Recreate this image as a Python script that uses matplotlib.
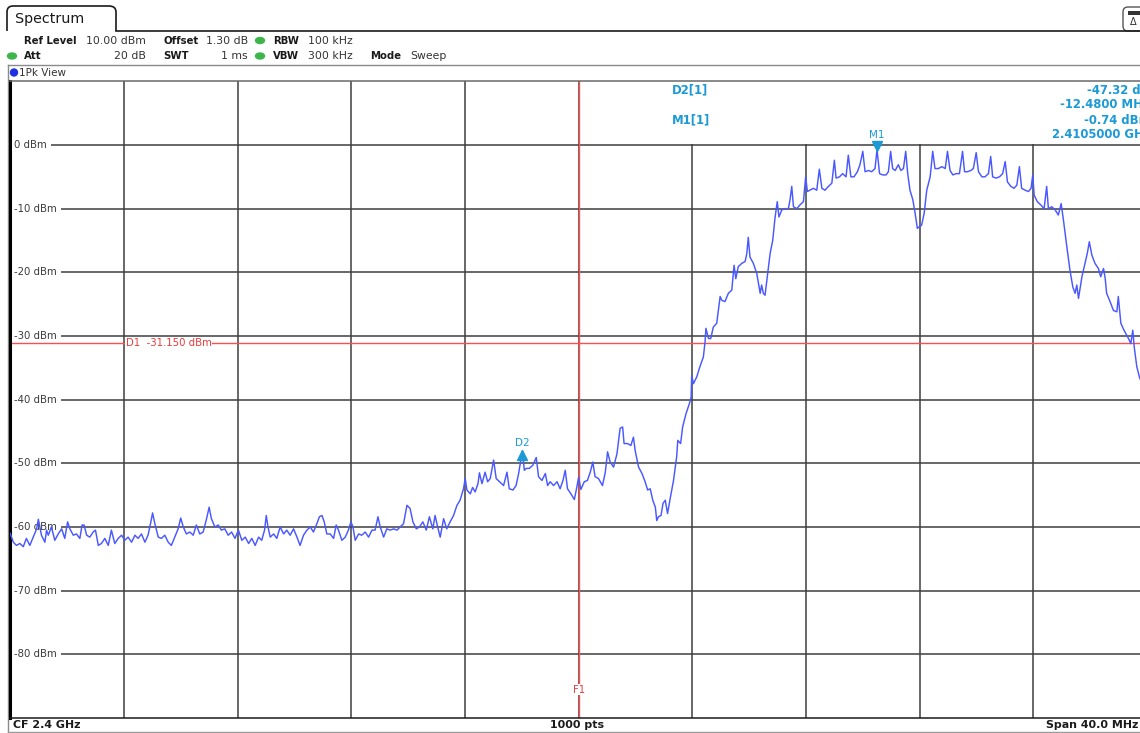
import matplotlib
matplotlib.use("Agg")
import matplotlib.pyplot as plt
import matplotlib.transforms as mtransforms
from matplotlib.patches import FancyBboxPatch, Ellipse, Rectangle
from matplotlib.path import Path
from matplotlib.patches import PathPatch

# ---------------- sweep settings ----------------
start_mhz = 2380.0
stop_mhz = 2420.0
center_ghz = 2.4
span_mhz = 40.0
n_points = 1000
ref_level = 10.0
y_bottom = -90.0

# ---------------- trace (offset from start in MHz, level in dBm) ----------------
freq_offset_mhz = [
    0.00, 0.11, 0.22, 0.34, 0.46, 0.57, 0.69, 0.81, 0.93, 0.99,
    1.10, 1.22, 1.28, 1.34, 1.45, 1.57, 1.69, 1.81, 1.92, 2.02,
    2.10, 2.22, 2.33, 2.45, 2.53, 2.60, 2.69, 2.80, 2.92, 3.00,
    3.10, 3.21, 3.33, 3.45, 3.56, 3.68, 3.80, 3.92, 4.03, 4.15,
    4.27, 4.39, 4.50, 4.62, 4.74, 4.85, 4.95, 5.01, 5.09, 5.21,
    5.32, 5.44, 5.56, 5.67, 5.79, 5.91, 6.00, 6.09, 6.20, 6.32,
    6.44, 6.55, 6.67, 6.79, 6.91, 7.00, 7.08, 7.20, 7.32, 7.43,
    7.55, 7.67, 7.79, 7.91, 8.03, 8.15, 8.27, 8.39, 8.50, 8.62,
    8.74, 8.85, 8.95, 9.01, 9.07, 9.15, 9.27, 9.38, 9.50, 9.62,
    9.73, 9.85, 9.97, 10.09, 10.20, 10.32, 10.44, 10.56, 10.67, 10.79,
    10.88, 10.97, 11.05, 11.14, 11.26, 11.38, 11.47, 11.55, 11.67, 11.79,
    11.90, 11.99, 12.06, 12.14, 12.26, 12.37, 12.49, 12.61, 12.73, 12.84,
    12.94, 13.02, 13.14, 13.25, 13.37, 13.49, 13.61, 13.72, 13.84, 13.96,
    14.07, 14.17, 14.29, 14.40, 14.52, 14.64, 14.75, 14.87, 14.95, 15.04,
    15.13, 15.25, 15.36, 15.48, 15.60, 15.72, 15.83, 15.95, 16.01, 16.07,
    16.19, 16.27, 16.36, 16.46, 16.51, 16.60, 16.71, 16.80, 16.89, 17.01,
    17.10, 17.22, 17.36, 17.48, 17.56, 17.69, 17.80, 17.89, 18.02, 18.09,
    18.16, 18.27, 18.39, 18.51, 18.59, 18.71, 18.83, 18.91, 19.00, 19.12,
    19.24, 19.35, 19.45, 19.53, 19.61, 19.73, 19.85, 19.94, 20.00, 20.08,
    20.20, 20.31, 20.41, 20.50, 20.58, 20.70, 20.84, 20.94, 21.02, 21.11,
    21.23, 21.35, 21.46, 21.55, 21.60, 21.72, 21.84, 21.93, 21.99, 22.11,
    22.23, 22.34, 22.43, 22.52, 22.61, 22.70, 22.75, 22.81, 22.90, 22.97,
    23.05, 23.13, 23.22, 23.34, 23.45, 23.49, 23.59, 23.66, 23.78, 23.90,
    23.96, 23.98, 24.04, 24.16, 24.27, 24.39, 24.45, 24.48, 24.57, 24.65,
    24.74, 24.86, 24.98, 25.04, 25.15, 25.27, 25.39, 25.47, 25.53, 25.62,
    25.74, 25.86, 25.92, 25.97, 26.03, 26.15, 26.27, 26.39, 26.44, 26.50,
    26.56, 26.64, 26.74, 26.83, 26.91, 26.99, 27.05, 27.15, 27.26, 27.38,
    27.44, 27.50, 27.56, 27.68, 27.79, 27.91, 27.99, 28.05, 28.14, 28.26,
    28.38, 28.47, 28.56, 28.67, 28.79, 28.91, 29.00, 29.06, 29.18, 29.29,
    29.41, 29.49, 29.58, 29.69, 29.81, 29.90, 30.00, 30.08, 30.20, 30.31,
    30.43, 30.50, 30.59, 30.70, 30.82, 30.90, 30.98, 31.05, 31.14, 31.25,
    31.34, 31.43, 31.51, 31.58, 31.66, 31.76, 31.84, 31.92, 32.00, 32.07,
    32.16, 32.25, 32.37, 32.46, 32.54, 32.66, 32.78, 32.90, 32.98, 33.07,
    33.17, 33.28, 33.40, 33.51, 33.58, 33.68, 33.80, 33.89, 33.99, 34.07,
    34.19, 34.30, 34.42, 34.50, 34.57, 34.69, 34.81, 34.92, 35.01, 35.09,
    35.21, 35.32, 35.42, 35.51, 35.59, 35.71, 35.83, 35.92, 35.98, 36.03,
    36.14, 36.26, 36.38, 36.47, 36.53, 36.65, 36.77, 36.88, 36.98, 37.06,
    37.18, 37.29, 37.39, 37.47, 37.53, 37.59, 37.71, 37.82, 37.90, 37.97,
    38.06, 38.17, 38.29, 38.37, 38.47, 38.53, 38.58, 38.70, 38.82, 38.94,
    38.99, 39.08, 39.19, 39.35, 39.43, 39.50, 39.55, 39.64, 39.73, 39.90,
]
level_dbm = [
    -61.0, -62.4, -62.9, -62.6, -63.1, -61.8, -62.9, -61.6, -60.3, -58.8,
    -61.3, -62.4, -60.5, -61.3, -60.0, -62.1, -61.1, -60.3, -61.8, -59.2,
    -60.3, -61.3, -61.1, -61.8, -59.7, -59.7, -61.3, -61.6, -60.8, -60.5,
    -62.9, -62.6, -61.8, -62.9, -60.5, -62.6, -61.8, -61.3, -62.1, -61.6,
    -62.4, -61.3, -61.8, -61.1, -62.4, -61.3, -59.2, -57.8, -59.5, -61.6,
    -61.8, -61.3, -62.4, -62.9, -61.6, -60.3, -58.6, -60.0, -61.1, -60.8,
    -61.3, -59.7, -61.1, -60.8, -58.7, -56.9, -58.7, -60.0, -59.7, -60.5,
    -60.3, -61.3, -60.8, -61.8, -60.5, -62.1, -61.6, -62.6, -61.8, -62.9,
    -61.6, -62.1, -60.5, -58.2, -60.0, -61.6, -61.1, -61.8, -60.0, -61.1,
    -60.5, -61.3, -60.3, -61.6, -62.9, -61.3, -60.5, -60.0, -60.8, -59.5,
    -58.4, -58.2, -59.2, -61.1, -61.1, -61.8, -59.7, -60.5, -62.1, -61.6,
    -60.5, -59.2, -60.0, -62.1, -61.1, -61.3, -60.8, -61.6, -60.5, -60.5,
    -58.4, -60.0, -61.6, -60.3, -60.5, -60.3, -60.5, -60.0, -59.5, -56.6,
    -57.1, -59.2, -60.3, -60.0, -59.2, -60.5, -58.4, -60.3, -58.2, -60.0,
    -61.6, -58.7, -60.3, -59.2, -58.2, -56.6, -55.8, -54.0, -52.4, -54.2,
    -54.8, -53.8, -54.5, -53.2, -51.5, -53.2, -51.4, -52.9, -52.4, -49.5,
    -52.4, -52.9, -53.5, -51.4, -54.0, -54.2, -53.5, -51.6, -48.06, -51.1,
    -50.8, -50.8, -50.3, -49.1, -52.1, -52.7, -51.6, -53.5, -52.9, -53.5,
    -52.9, -54.0, -52.7, -51.1, -54.0, -54.8, -55.7, -53.7, -52.2, -54.1,
    -52.9, -52.7, -51.4, -49.8, -52.1, -52.4, -53.5, -51.4, -48.2, -49.8,
    -50.6, -48.5, -44.5, -44.3, -46.9, -46.9, -47.2, -45.9, -48.0, -50.6,
    -51.6, -52.9, -54.2, -54.0, -55.8, -56.9, -59.0, -58.4, -58.2, -56.3,
    -55.8, -57.9, -55.6, -52.7, -49.0, -46.4, -46.9, -44.3, -42.2, -40.6,
    -39.6, -36.2, -37.5, -36.4, -34.8, -33.3, -30.9, -28.8, -30.4, -30.4,
    -28.6, -28.0, -23.8, -24.4, -24.6, -23.3, -22.8, -18.9, -21.0, -19.1,
    -18.6, -18.3, -17.0, -14.5, -17.6, -18.6, -20.2, -23.3, -22.0, -23.3,
    -23.6, -20.7, -17.0, -15.0, -11.5, -8.9, -11.3, -10.2, -10.0, -10.0,
    -8.6, -6.5, -9.7, -10.0, -9.4, -8.9, -5.0, -7.3, -7.1, -6.8,
    -7.1, -3.8, -6.8, -7.1, -6.5, -6.0, -2.4, -5.2, -5.0, -4.5,
    -5.0, -1.6, -5.0, -5.0, -4.2, -3.1, -1.0, -4.2, -4.0, -4.2,
    -3.7, -0.74, -4.5, -4.7, -4.7, -4.2, -1.0, -3.7, -4.0, -3.1,
    -4.0, -3.7, -1.0, -4.5, -7.1, -8.6, -10.7, -13.1, -12.8, -12.6,
    -10.7, -7.1, -5.0, -1.0, -3.7, -3.7, -3.4, -3.7, -1.0, -4.0,
    -4.7, -4.5, -4.5, -1.0, -4.2, -4.2, -4.0, -3.7, -1.2, -4.2,
    -5.0, -5.0, -4.5, -1.8, -5.0, -5.2, -5.0, -4.5, -2.6, -5.8,
    -6.5, -6.8, -6.3, -3.4, -6.8, -7.1, -7.3, -6.8, -4.7, -7.9,
    -8.9, -9.4, -10.0, -6.5, -10.0, -9.7, -10.2, -11.0, -9.2, -11.8,
    -16.0, -19.7, -22.3, -23.3, -22.0, -24.1, -20.7, -18.6, -17.0, -15.2,
    -17.3, -18.6, -19.4, -20.7, -19.4, -21.0, -23.3, -24.6, -26.0, -26.2,
    -23.8, -28.0, -29.1, -30.4, -31.2, -29.1, -31.7, -34.8, -36.4, -38.5,
]

# ---------------- markers and lines ----------------
m1_freq_mhz = 2410.5
m1_level = -0.74
d2_delta_mhz = -12.48
d2_delta_db = -47.32
d1_level = -31.150
f1_freq_mhz = 2400.0

# ---------------- colours ----------------
TRACE = "#4a58ff"
GRID = "#3e3e3e"
RED = "#ff4d4d"
MARK = "#1c9ad6"
GREEN = "#3db54a"
DARK = "#1a1a1a"
TXT = "#333333"

W, H = 1140, 733
fig = plt.figure(figsize=(W / 100, H / 100), dpi=100)
fig.patch.set_facecolor("white")


def pixel_axes(z):
    a = fig.add_axes([0, 0, 1, 1], zorder=z)
    a.set_xlim(0, W)
    a.set_ylim(H, 0)
    a.axis("off")
    a.patch.set_visible(False)
    return a


# ---------- frame and header, drawn in pixel space ----------
ov = pixel_axes(0)

# "Spectrum" tab
verts = [(7, 31), (7, 12), (7, 6), (13, 6), (109, 6), (116, 6), (116, 12), (116, 31)]
codes = [Path.MOVETO, Path.LINETO, Path.CURVE3, Path.CURVE3, Path.LINETO,
         Path.CURVE3, Path.CURVE3, Path.LINETO]
ov.add_patch(PathPatch(Path(verts, codes), fill=False, ec=DARK, lw=1.2))
ov.text(15, 18.5, "Spectrum", fontsize=10.3, color=DARK, va="center", ha="left")
ov.plot([116, 1140], [31, 31], color=DARK, lw=1.2)
# small tab at the top right
ov.add_patch(FancyBboxPatch((1123, 7), 40, 24, boxstyle="round,pad=0,rounding_size=5",
                            fill=False, ec="#555555", lw=1.0))
ov.add_patch(plt.Rectangle((1128, 11), 12, 4, fc="#333333", ec="none"))
ov.text(1133, 22, "\u0394", fontsize=7, color="#333333", ha="center", va="center")

bold = dict(fontsize=7.3, fontweight="bold", color=DARK, va="center")
reg = dict(fontsize=7.8, color=TXT, va="center")

r1, r2 = 40.5, 56
ov.text(24, r1, "Ref Level", ha="left", **bold)
ov.text(146, r1, f"{ref_level:.2f} dBm", ha="right", **reg)
ov.text(163, r1, "Offset", ha="left", **bold)
ov.text(248, r1, "1.30 dB", ha="right", **reg)
ov.add_patch(Ellipse((260, r1), 9, 6, color=GREEN))
ov.text(273, r1, "RBW", ha="left", **bold)
ov.text(308, r1, "100 kHz", ha="left", **reg)

ov.add_patch(Ellipse((12, r2), 9, 6, color=GREEN))
ov.text(24, r2, "Att", ha="left", **bold)
ov.text(146, r2, "20 dB", ha="right", **reg)
ov.text(163, r2, "SWT", ha="left", **bold)
ov.text(248, r2, "1 ms", ha="right", **reg)
ov.add_patch(Ellipse((260, r2), 9, 6, color=GREEN))
ov.text(273, r2, "VBW", ha="left", **bold)
ov.text(308, r2, "300 kHz", ha="left", **reg)
ov.text(370, r2, "Mode", ha="left", **bold)
ov.text(410, r2, "Sweep", ha="left", **reg)

# "1Pk View" strip
ov.plot([7.5, 1140], [64.5, 64.5], color="#8a8a8a", lw=1.0)
ov.plot([7.5, 7.5], [64.5, 733], color="#8a8a8a", lw=1.0)
ov.add_patch(Ellipse((14, 72.5), 7, 7, color="#2030e0"))
ov.text(19, 72.5, "1Pk View", fontsize=7.5, color=TXT, ha="left", va="center")

# bottom status strip
ov.plot([7.5, 1140], [731.8, 731.8], color="#9a9a9a", lw=1.0)
bstyle = dict(fontsize=7.9, fontweight="bold", color=DARK, va="center")
ov.text(13, 725.3, f"CF {center_ghz:g} GHz", ha="left", **bstyle)
ov.text(577, 725.3, f"{n_points} pts", ha="center", **bstyle)
ov.text(1138, 725.3, f"Span {span_mhz:.1f} MHz", ha="right", **bstyle)

# ---------- spectrum display ----------
left_px, right_px = 10.2, 1147.0
top_px, bot_px = 81.35, 717.9
ax = fig.add_axes([left_px / W, (H - bot_px) / H,
                   (right_px - left_px) / W, (bot_px - top_px) / H], zorder=1)
ax.set_xlim(start_mhz, stop_mhz)
ax.set_ylim(y_bottom, ref_level)
ax.set_facecolor("white")

ax.set_xticks([start_mhz + 4 * k for k in range(1, 10)])
ax.set_yticks(list(range(0, -90, -10)))
ax.tick_params(length=0, labelbottom=False, labelleft=False)
ax.grid(True, color=GRID, lw=1.1, zorder=1)
ax.set_axisbelow(True)
ax.spines["right"].set_visible(False)
ax.spines["left"].set_color("black")
ax.spines["left"].set_linewidth(2.2)
ax.spines["top"].set_color("#6a6a6a")
ax.spines["top"].set_linewidth(1.1)
ax.spines["bottom"].set_color(DARK)
ax.spines["bottom"].set_linewidth(1.1)

# white panel behind the marker readout (hides the grid above 0 dBm on the right)
ax.add_patch(Rectangle((2402.2, 0.2), stop_mhz - 2402.2 + 1, ref_level, fc="white",
                       ec="none", zorder=2.3))

ylab_tr = mtransforms.blended_transform_factory(ax.transAxes, ax.transData)
for v in range(0, -90, -10):
    ax.text(0.0036, v, f"{v} dBm", transform=ylab_tr, fontsize=7.3, color="#3a3a3a",
            ha="left", va="center", zorder=2.2,
            bbox=dict(boxstyle="square,pad=0.35", fc="white", ec="none"))

# display line D1 and frequency line F1
ax.axhline(d1_level, color=RED, lw=1.0, zorder=2.4)
ax.text(start_mhz + 4.07, d1_level, f"D1  {d1_level:.3f} dBm", fontsize=7.3, color="#e83a3a",
        ha="left", va="center", zorder=2.5, bbox=dict(fc="white", ec="none", pad=0.4))
ax.axvline(f1_freq_mhz, color=RED, lw=1.0, zorder=2.4)
ax.text(f1_freq_mhz, -85.6, "F1", fontsize=7.3, color="#e83a3a", ha="center", va="center",
        zorder=2.5, bbox=dict(fc="white", ec="none", pad=0.3))

# trace
trace_x = [start_mhz + f for f in freq_offset_mhz]
ax.plot(trace_x, level_dbm, color=TRACE, lw=1.05, zorder=3, solid_joinstyle="round")

# markers
d2_freq_mhz = m1_freq_mhz + d2_delta_mhz
d2_level = m1_level + d2_delta_db
up = mtransforms.offset_copy(ax.transData, fig=fig, x=0, y=4, units="dots")
down = mtransforms.offset_copy(ax.transData, fig=fig, x=0, y=-4, units="dots")
ax.plot([m1_freq_mhz], [m1_level], marker="v", ms=6.5, color=MARK, transform=up,
        zorder=4, clip_on=False)
ax.annotate("M1", (m1_freq_mhz, m1_level), xytext=(0, 15), textcoords="offset pixels",
            ha="center", va="center", fontsize=7.5, color=MARK, zorder=4)
ax.plot([d2_freq_mhz], [d2_level], marker="^", ms=6.5, color=MARK, transform=down,
        zorder=4)
ax.annotate("D2", (d2_freq_mhz, d2_level), xytext=(0, 8), textcoords="offset pixels",
            ha="center", va="center", fontsize=7.5, color=MARK, zorder=4)

# ---------- marker readout, on top of the display ----------
top = pixel_axes(5)
mstyle = dict(fontsize=8.4, fontweight="bold", color=MARK, va="center")
top.text(672, 90, "D2[1]", ha="left", **mstyle)
top.text(672, 120, "M1[1]", ha="left", **mstyle)
top.text(1150, 90, f"{d2_delta_db:.2f} dB", ha="right", **mstyle)
top.text(1150, 104.5, f"{d2_delta_mhz:.4f} MHz", ha="right", **mstyle)
top.text(1150, 120, f"{m1_level:.2f} dBm", ha="right", **mstyle)
top.text(1150, 134.5, f"{m1_freq_mhz / 1000:.7f} GHz", ha="right", **mstyle)

fig.savefig("out.png", dpi=100, facecolor="white")
